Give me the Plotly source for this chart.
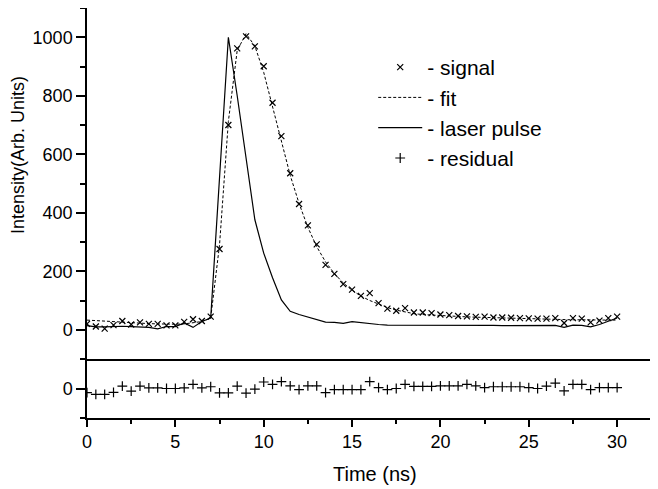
import plotly.graph_objects as go

time_ns = [0, 0.5, 1, 1.5, 2, 2.5, 3, 3.5, 4, 4.5, 5, 5.5, 6, 6.5, 7,
           7.5, 8, 8.5, 9, 9.5, 10, 10.5, 11, 11.5, 12, 12.5, 13, 13.5, 14, 14.5,
           15, 15.5, 16, 16.5, 17, 17.5, 18, 18.5, 19, 19.5, 20, 20.5, 21, 21.5, 22,
           22.5, 23, 23.5, 24, 24.5, 25, 25.5, 26, 26.5, 27, 27.5, 28, 28.5, 29, 29.5, 30]

signal = [20, 11, 4, 16, 30, 18, 25, 20, 20, 15, 15, 27, 36, 30, 45,
          276, 700, 962, 1003, 969, 901, 776, 662, 535, 430, 357, 292, 222, 191, 156,
          137, 116, 125, 91, 72, 65, 74, 59, 59, 57, 52, 50, 47, 46, 44,
          45, 42, 42, 41, 40, 39, 38, 38, 40, 23, 40, 38, 25, 31, 40, 45]

fit = [33, 31, 29, 27, 25, 23, 22, 21, 20, 19, 19, 20, 24, 28, 40,
       290, 712, 955, 1012, 970, 880, 765, 642, 528, 432, 350, 284, 232, 192, 160,
       135, 115, 100, 88, 76, 67, 61, 55, 52, 50, 48, 47, 45, 44, 43,
       42, 41, 40, 39, 38, 37, 37, 36, 35, 35, 34, 34, 33, 33, 33, 33]

laser = [14, 10, 10, 12, 12, 11, 10, 8, 3, 11, 11, 23, 8, 28, 40,
         520, 1000, 800, 590, 376, 262, 178, 102, 63, 52, 44, 35, 26, 25, 22,
         28, 24, 22, 18, 16, 16, 17, 16, 16, 16, 16, 15, 16, 16, 15,
         16, 15, 14, 14, 15, 15, 14, 14, 15, 8, 16, 15, 10, 18, 30, 40]

residual = [-14, -20, -20, -13, 8, -9, 8, 2, 2, 0, 0, 2, 14, 2, 6,
            -15, -15, 8, -16, -2, 22, 14, 23, 9, -4, 9, 9, -14, -4, -4,
            -4, -4, 23, 3, -4, 0, 14, 7, 7, 7, 9, 9, 9, 14, 9,
            3, 6, 6, 6, 6, 3, 0, 8, 18, -8, 14, 14, -4, 3, 3, 3]

upper_ticks = [0, 200, 400, 600, 800, 1000]
x_ticks = [0, 5, 10, 15, 20, 25, 30]

FONT = "Liberation Sans, Arial, sans-serif"

fig = go.Figure()
fig.add_trace(go.Scatter(x=time_ns, y=signal, mode="markers", name="- signal",
                         legendgroup="a",
                         marker=dict(symbol="x-thin-open", size=6, color="black",
                                     line=dict(color="black", width=1.2)),
                         xaxis="x2", yaxis="y2"))
fig.add_trace(go.Scatter(x=time_ns, y=fit, mode="lines", name="- fit",
                         legendgroup="b",
                         line=dict(color="black", width=1, dash="3px,2px"),
                         xaxis="x2", yaxis="y2"))
fig.add_trace(go.Scatter(x=time_ns, y=laser, mode="lines", name="- laser pulse",
                         legendgroup="c",
                         line=dict(color="black", width=1.2),
                         xaxis="x2", yaxis="y2"))
fig.add_trace(go.Scatter(x=time_ns, y=residual, mode="markers", name="- residual",
                         legendgroup="d",
                         marker=dict(symbol="cross-thin-open", size=7, color="black",
                                     line=dict(color="black", width=1.2)),
                         xaxis="x", yaxis="y"))

split = 59 / 410
axis_common = dict(showline=True, linecolor="black", linewidth=1.5, zeroline=False,
                   showgrid=False, tickcolor="black", tickwidth=1.5,
                   tickfont=dict(family=FONT, size=18, color="black"))

fig.update_layout(
    width=650, height=481,
    margin=dict(l=79, r=2, t=0, b=71),
    paper_bgcolor="white", plot_bgcolor="white",
    font=dict(family=FONT, color="black"),
    xaxis=dict(domain=[0, 1], range=[0, 32.2], anchor="y",
               tickvals=x_ticks, ticks="outside", ticklen=7,
               minor=dict(dtick=2.5, tick0=0, ticks="outside", ticklen=4,
                          tickcolor="black", tickwidth=1.5),
               **axis_common),
    yaxis=dict(domain=[0, split], range=[-100, 100], anchor="x",
               tickvals=[0], ticks="outside", ticklen=9,
               minor=dict(tickmode="array", tickvals=[-100, 100], ticks="outside",
                          ticklen=5, tickcolor="black", tickwidth=1.5),
               **axis_common),
    xaxis2=dict(domain=[0, 1], range=[0, 32.2], anchor="y2", matches="x",
                showticklabels=False, ticks="", **axis_common),
    yaxis2=dict(domain=[split, 1], range=[-100, 1100], anchor="x2",
                tickvals=upper_ticks, ticks="outside", ticklen=9,
                minor=dict(dtick=100, tick0=0, ticks="outside", ticklen=5,
                           tickcolor="black", tickwidth=1.5),
                **axis_common),
    showlegend=True,
    legend=dict(x=0.503, y=0.905, xanchor="left", yanchor="top",
                bgcolor="rgba(0,0,0,0)", borderwidth=0,
                font=dict(family=FONT, size=21, color="black"),
                tracegroupgap=0, itemwidth=44),
    annotations=[
        dict(text="Intensity(Arb. Units)", xref="paper", yref="paper",
             x=-0.1213, y=0.6415, xanchor="center", yanchor="middle",
             textangle=-90, showarrow=False,
             font=dict(family=FONT, size=18, color="black")),
        dict(text="Time (ns)", xref="paper", yref="paper",
             x=0.507, y=-0.1366, xanchor="center", yanchor="middle",
             showarrow=False,
             font=dict(family=FONT, size=20, color="black")),
    ],
)

fig.write_html("out.html")
